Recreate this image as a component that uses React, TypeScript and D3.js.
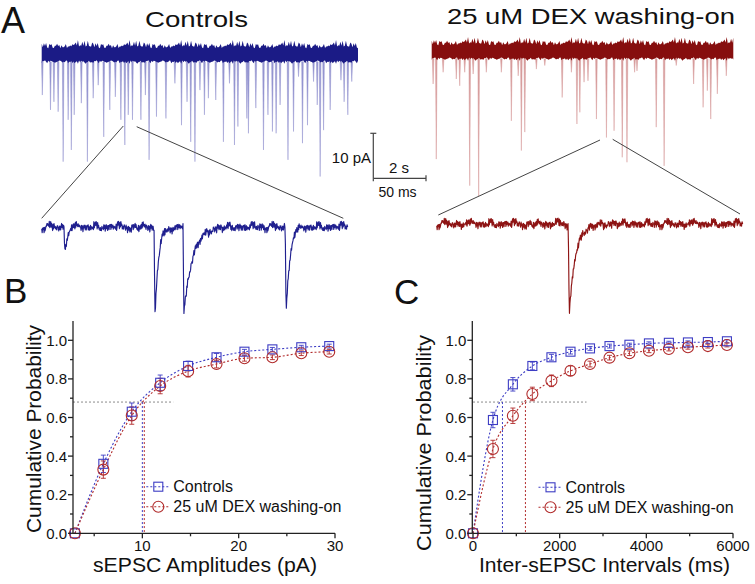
import React from 'react';
import * as d3 from 'd3';

// ---------- Panel B : cumulative amplitude ----------
const AMP_X = [3, 5.95, 8.9, 11.85, 14.75, 17.7, 20.6, 23.5, 26.5, 29.4];
const AMP_CTRL = [0, 0.36, 0.63, 0.78, 0.867, 0.912, 0.941, 0.953, 0.964, 0.97];
const AMP_CTRL_ERR = [0, 0.045, 0.045, 0.04, 0.025, 0.02, 0.012, 0.01, 0.01, 0.01];
const AMP_DEX = [0, 0.33, 0.61, 0.763, 0.84, 0.877, 0.907, 0.912, 0.933, 0.941];
const AMP_DEX_ERR = [0, 0.045, 0.045, 0.04, 0.03, 0.02, 0.015, 0.012, 0.012, 0.012];
const AMP_MEDIAN = { ctrl: 10.0, dex: 10.2, level: 0.68, end: 13.2 };
const AMP_TICKS = [10, 20, 30];
const AMP_MINOR = [5, 15, 25];

// ---------- Panel C : cumulative intervals ----------
const INT_X = [0, 460, 920, 1370, 1810, 2250, 2700, 3150, 3610, 4060, 4520, 4960, 5420, 5860];
const INT_CTRL = [0, 0.587, 0.772, 0.867, 0.912, 0.941, 0.958, 0.97, 0.977, 0.984, 0.987, 0.989, 0.991, 0.995];
const INT_CTRL_ERR = [0, 0.04, 0.035, 0.02, 0.015, 0.012, 0.01, 0.01, 0.008, 0.008, 0.008, 0.008, 0.008, 0.008];
const INT_DEX = [0, 0.437, 0.609, 0.722, 0.79, 0.842, 0.877, 0.91, 0.933, 0.946, 0.955, 0.964, 0.97, 0.976];
const INT_DEX_ERR = [0, 0.045, 0.04, 0.035, 0.03, 0.025, 0.015, 0.012, 0.012, 0.01, 0.01, 0.01, 0.01, 0.01];
const INT_MEDIAN = { ctrl: 680, dex: 1210, level: 0.68, end: 2620 };
const INT_TICKS = [0, 2000, 4000, 6000];
const INT_MINOR = [1000, 3000, 5000];

const Y_TICKS = [0, 0.2, 0.4, 0.6, 0.8, 1.0];
const Y_MINOR = [0.1, 0.3, 0.5, 0.7, 0.9];

// ---------- Panel A : overview traces (time s, amplitude pA) ----------
const CTRL_SPIKE_T = [0.02, 0.33, 0.46, 0.62, 0.81, 1.0, 1.12, 1.23, 1.5, 1.73, 1.95, 2.14, 2.35, 2.58, 2.79, 3.0, 3.15, 3.28, 3.44, 3.76, 3.93, 4.07, 4.35, 4.71, 5.05, 5.3, 5.51, 5.65, 5.81, 6.0, 6.17, 6.32, 6.6, 6.89, 7.12, 7.31, 7.44, 7.78, 7.84, 8.12, 8.41, 8.58, 8.75, 8.89, 9.04, 9.34, 9.55, 9.74, 9.89, 10.08, 10.31, 10.45, 10.56, 10.69, 10.94, 11.35, 11.47, 11.61, 11.76];
const CTRL_SPIKE_A = [8.9, 12.2, 10.4, 12.6, 23.7, 14.4, 21.1, 13.3, 10.7, 23.7, 9.6, 6.7, 18.2, 12.2, 9.3, 14.4, 20.0, 13.3, 14.4, 14.4, 8.9, 23.3, 13.7, 14.1, 6.3, 15.6, 10.4, 19.3, 23.7, 7.8, 13.3, 9.6, 10.0, 19.3, 6.3, 20.0, 15.9, 14.1, 17.4, 11.8, 21.1, 13.3, 17.0, 17.4, 11.1, 23.3, 17.0, 4.8, 19.6, 15.6, 5.9, 11.1, 27.0, 16.7, 12.2, 5.6, 10.4, 13.3, 5.9];
const DEX_SPIKE_T = [0.05, 0.17, 0.43, 0.93, 1.06, 1.25, 1.44, 1.57, 1.78, 2.07, 2.64, 3.02, 3.28, 3.4, 3.53, 3.97, 4.29, 4.95, 5.3, 5.51, 5.62, 5.78, 5.93, 6.25, 6.63, 6.92, 7.23, 7.41, 7.7, 7.79, 8.52, 8.82, 9.28, 9.94, 10.3, 10.46, 10.59, 10.84, 11.18];
const DEX_SPIKE_A = [7.1, 23.8, 4.5, 6.0, 7.5, 4.5, 29.7, 4.9, 32.0, 4.5, 4.5, 15.3, 5.3, 21.9, 17.8, 3.8, 3.0, 10.1, 4.5, 16.0, 13.4, 6.7, 6.4, 14.9, 19.0, 17.5, 23.4, 24.5, 4.5, 4.2, 16.7, 25.3, 3.0, 7.1, 12.3, 8.6, 14.9, 9.3, 5.3];

// ---------- Panel A : expanded traces (time ms, amplitude pA, decay ms) ----------
const CTRL_EVT_T = [22, 107.5, 135, 232];
const CTRL_EVT_A = [5.5, 19.5, 19.5, 19.5];
const CTRL_EVT_TAU = [2.5, 3.5, 8, 3.5];
const DEX_EVT_T = [125.8];
const DEX_EVT_A = [20];
const DEX_EVT_TAU = [6];

// fixed texture values used for the baseline noise of the traces
const NOISE = [0.62, 0.15, 0.88, 0.34, 0.71, 0.05, 0.93, 0.47, 0.26, 0.8, 0.12, 0.58, 0.97, 0.39, 0.66, 0.21, 0.84, 0.08, 0.53, 0.75, 0.3, 0.91, 0.44, 0.17, 0.69, 0.02, 0.86, 0.36, 0.59, 0.24, 0.95, 0.5, 0.11, 0.78, 0.41, 0.64, 0.19, 0.89, 0.33, 0.72, 0.06, 0.55, 0.98, 0.28, 0.81, 0.14, 0.67];

const FONT = 'Arial, "Liberation Sans", Helvetica, sans-serif';
const BLUE = '#3d3dc4';
const RED = '#b12b2b';

function nz(i: number) {
  return NOISE[((i % NOISE.length) + NOISE.length) % NOISE.length];
}

function Overview({ x0, x1, tMax, base, spikesT, spikesA, band, spike }: any) {
  const xs = d3.scaleLinear().domain([0, tMax]).range([x0, x1]);
  const ys = d3.scaleLinear().domain([0, -10]).range([base, base + 45]);
  const n = Math.round((x1 - x0) / 1.1);
  const top: [number, number][] = [];
  const bot: [number, number][] = [];
  for (let i = 0; i <= n; i++) {
    const t = (i / n) * tMax;
    const up = 1.4 + 1.9 * nz(i) * nz(i * 3 + 7) + 0.6 * nz(i * 5 + 2);
    const dn = 1.1 + 0.5 * nz(i * 2 + 11) + 0.6 * nz(i * 7 + 4) * nz(i + 9);
    top.push([xs(t), ys(up)]);
    bot.push([xs(t), ys(-dn)]);
  }
  const bandD = 'M' + top.map((p) => p.join(',')).join('L') + 'L' + bot.reverse().map((p) => p.join(',')).join('L') + 'Z';
  return (
    <g>
      {spikesT.map((t: number, i: number) => {
        const x = xs(t);
        const yb = ys(-1.5);
        const yt = ys(-spikesA[i]);
        return <path key={i} d={`M${x - 0.7},${yb}L${x + 0.1},${yt}L${x + 0.9},${yb}Z`} fill={spike} stroke={spike} strokeWidth={0.5} opacity={0.85} />;
      })}
      <path d={bandD} fill={band} />
    </g>
  );
}

function Expanded({ x0, x1, base, evT, evA, evTau, color }: any) {
  const xs = d3.scaleLinear().domain([0, 291]).range([x0, x1]);
  const ys = d3.scaleLinear().domain([0, -10]).range([base, base + 45]);
  const pts: [number, number][] = [];
  let i = 0;
  for (let t = 0; t <= 291; t += 0.45, i++) {
    let v = (nz(i) - 0.5) * 1.5 + (nz(i * 7 + 3) - 0.5) * 0.8 + (nz(Math.floor(i / 10) + 5) - 0.5) * 1.0;
    evT.forEach((et: number, k: number) => {
      const dt = t - et;
      if (dt >= -0.9 && dt < 0) v -= evA[k] * (1 + dt / 0.9);
      else if (dt >= 0) v -= evA[k] * Math.exp(-dt / evTau[k]);
    });
    pts.push([xs(t), ys(v)]);
  }
  const line = d3.line();
  return <path d={line(pts) || ''} fill="none" stroke={color} strokeWidth={1.15} strokeLinejoin="round" />;
}

function CumPlot(p: any) {
  const { xScale, yScale, xs, ctrl, ctrlErr, dex, dexErr, med, ticks, minor, xLabel, xLabelCx, xLabelLen, yLabelX, yLabelCy, yLabelLen, legX, legY, axisX, axisY, tickFmt } = p;
  const line = d3.line<number>().x((_, i) => xScale(xs[i])).y((d) => yScale(d)).curve(d3.curveMonotoneX);
  const x0 = xScale.range()[0];
  const x1 = xScale.range()[1];
  const yTop = yScale(1.1);
  const sq = (cx: number, cy: number, k: any) => <rect key={k} x={cx - 4.5} y={cy - 4.5} width={9} height={9} fill="none" stroke={BLUE} strokeWidth={1.1} />;
  const ci = (cx: number, cy: number, k: any) => <circle key={k} cx={cx} cy={cy} r={5.5} fill="none" stroke={RED} strokeWidth={1.1} />;
  const err = (vals: number[], errs: number[], color: string) =>
    vals.map((v, i) => {
      if (!errs[i]) return null;
      const x = xScale(xs[i]);
      const a = yScale(v + errs[i]);
      const b = yScale(v - errs[i]);
      return (
        <g key={i} stroke={color} strokeWidth={0.9}>
          <line x1={x} x2={x} y1={a} y2={b} />
          <line x1={x - 2.5} x2={x + 2.5} y1={a} y2={a} />
          <line x1={x - 2.5} x2={x + 2.5} y1={b} y2={b} />
        </g>
      );
    });
  return (
    <g>
      {/* median guides */}
      <line x1={x0} x2={xScale(med.end)} y1={yScale(med.level)} y2={yScale(med.level)} stroke="#8a8a8a" strokeWidth={1} strokeDasharray="2,2" />
      <line x1={xScale(med.ctrl)} x2={xScale(med.ctrl)} y1={yScale(med.level)} y2={axisY} stroke={BLUE} strokeWidth={1} strokeDasharray="2,2" />
      <line x1={xScale(med.dex)} x2={xScale(med.dex)} y1={yScale(med.level)} y2={axisY} stroke={RED} strokeWidth={1} strokeDasharray="2,2" />
      {/* curves */}
      <path d={line(ctrl) || ''} fill="none" stroke={BLUE} strokeWidth={1.1} strokeDasharray="2,2" />
      <path d={line(dex) || ''} fill="none" stroke={RED} strokeWidth={1.1} strokeDasharray="2,2" />
      {err(ctrl, ctrlErr, BLUE)}
      {err(dex, dexErr, RED)}
      {ctrl.map((v: number, i: number) => sq(xScale(xs[i]), yScale(v), 'c' + i))}
      {dex.map((v: number, i: number) => ci(xScale(xs[i]), yScale(v), 'd' + i))}
      {/* axes */}
      <g stroke="#222" strokeWidth={1.3}>
        <line x1={axisX} x2={axisX} y1={yTop} y2={axisY} />
        <line x1={axisX} x2={x1} y1={axisY} y2={axisY} />
        {ticks.map((t: number) => <line key={'t' + t} x1={xScale(t)} x2={xScale(t)} y1={axisY} y2={axisY + 5} />)}
        {minor.map((t: number) => <line key={'m' + t} x1={xScale(t)} x2={xScale(t)} y1={axisY} y2={axisY + 3} />)}
        {Y_TICKS.map((t) => <line key={'y' + t} x1={axisX - 5} x2={axisX} y1={yScale(t)} y2={yScale(t)} />)}
        {Y_MINOR.map((t) => <line key={'ym' + t} x1={axisX - 3} x2={axisX} y1={yScale(t)} y2={yScale(t)} />)}
      </g>
      <g fontSize={15} fill="#111">
        {ticks.map((t: number) => (
          <text key={'tl' + t} x={xScale(t)} y={axisY + 18} textAnchor="middle">{tickFmt(t)}</text>
        ))}
        {Y_TICKS.map((t) => (
          <text key={'yl' + t} x={axisX - 6} y={yScale(t) + 5.5} textAnchor="end">{d3.format('.1f')(t)}</text>
        ))}
      </g>
      <text x={xLabelCx} y={572} textAnchor="middle" fontSize={19.5} fill="#111" textLength={xLabelLen} lengthAdjust="spacingAndGlyphs">{xLabel}</text>
      <text transform={`translate(${yLabelX},${yLabelCy}) rotate(-90)`} textAnchor="middle" fontSize={21} fill="#111" textLength={yLabelLen} lengthAdjust="spacingAndGlyphs">Cumulative Probability</text>
      {/* legend */}
      <line x1={legX - 12} x2={legX + 12} y1={legY} y2={legY} stroke={BLUE} strokeWidth={1.1} strokeDasharray="2,2" />
      {sq(legX, legY, 'l1')}
      <text x={legX + 15} y={legY + 5.5} fontSize={16} fill="#111">Controls</text>
      <line x1={legX - 12} x2={legX + 12} y1={legY + 20} y2={legY + 20} stroke={RED} strokeWidth={1.1} strokeDasharray="2,2" />
      {ci(legX, legY + 20, 'l2')}
      <text x={legX + 15} y={legY + 25.5} fontSize={16} fill="#111">25 uM DEX washing-on</text>
    </g>
  );
}

export default function App() {
  const yScale = d3.scaleLinear().domain([0, 1.1]).range([533.3, 321]);
  const xB = d3.scaleLinear().domain([2.8, 30]).range([73, 335]);
  const xC = d3.scaleLinear().domain([0, 6000]).range([473, 733]);
  // scale bar: 10 pA vertical, 2 s horizontal
  const sbY = d3.scaleLinear().domain([0, 10]).range([178.3, 133.3]);
  const sbX = d3.scaleLinear().domain([0, 2]).range([373.3, 426]);
  return (
    <svg width={755} height={584} style={{ position: 'absolute', left: 0, top: 0, background: '#fff' }} fontFamily={FONT}>
      <rect width={755} height={584} fill="#fff" />
      {/* panel letters */}
      <text x={1} y={33} fontSize={36} fill="#111">A</text>
      <text x={4} y={303} fontSize={35} fill="#111">B</text>
      <text x={394} y={304} fontSize={35} fill="#111">C</text>
      {/* titles */}
      <text x={145} y={27} fontSize={22} fill="#111" textLength={103} lengthAdjust="spacingAndGlyphs">Controls</text>
      <text x={447} y={24} fontSize={22} fill="#111" textLength={288} lengthAdjust="spacingAndGlyphs">25 uM DEX washing-on</text>

      {/* overview traces */}
      <Overview x0={41.7} x1={358} tMax={12} base={55} spikesT={CTRL_SPIKE_T} spikesA={CTRL_SPIKE_A} band="#1b1b86" spike="#8282c8" />
      <Overview x0={431.7} x1={733.3} tMax={11.45} base={52} spikesT={DEX_SPIKE_T} spikesA={DEX_SPIKE_A} band="#860e0e" spike="#d08a8a" />

      {/* zoom connectors */}
      <g stroke="#444" strokeWidth={1}>
        <line x1={123.3} y1={126} x2={41.7} y2={218.3} />
        <line x1={136.7} y1={126.7} x2={343.3} y2={218.3} />
        <line x1={600} y1={140} x2={438.3} y2={215} />
        <line x1={612.7} y1={139.3} x2={740} y2={214} />
      </g>

      {/* expanded traces */}
      <Expanded x0={41.7} x1={348.3} base={227} evT={CTRL_EVT_T} evA={CTRL_EVT_A} evTau={CTRL_EVT_TAU} color="#20208f" />
      <Expanded x0={436.7} x1={743.3} base={224} evT={DEX_EVT_T} evA={DEX_EVT_A} evTau={DEX_EVT_TAU} color="#8e1414" />

      {/* scale bar */}
      <g stroke="#444" strokeWidth={1.2}>
        <line x1={sbX(0)} x2={sbX(0)} y1={sbY(0)} y2={sbY(10)} />
        <line x1={sbX(0) - 3} x2={sbX(0) + 3} y1={sbY(10)} y2={sbY(10)} />
        <line x1={sbX(0)} x2={sbX(2)} y1={sbY(0)} y2={sbY(0)} />
        <line x1={sbX(2)} x2={sbX(2)} y1={sbY(0) - 3} y2={sbY(0) + 3} />
        <line x1={sbX(0)} x2={sbX(0)} y1={sbY(0)} y2={sbY(0) + 3} />
      </g>
      <text x={371} y={163} fontSize={15} textAnchor="end" fill="#111">10 pA</text>
      <text x={399} y={173} fontSize={15} textAnchor="middle" fill="#111">2 s</text>
      <text x={397.5} y={196.5} fontSize={14} textAnchor="middle" fill="#111">50 ms</text>

      <CumPlot xScale={xB} yScale={yScale} xs={AMP_X} ctrl={AMP_CTRL} ctrlErr={AMP_CTRL_ERR} dex={AMP_DEX} dexErr={AMP_DEX_ERR}
        med={AMP_MEDIAN} ticks={AMP_TICKS} minor={AMP_MINOR} xLabel="sEPSC Amplitudes (pA)" xLabelCx={205} xLabelLen={224}
        yLabelX={41} yLabelCy={429} yLabelLen={208} legX={158.3} legY={486.7} axisX={73} axisY={533.3} tickFmt={(t: number) => String(t)} />
      <CumPlot xScale={xC} yScale={yScale} xs={INT_X} ctrl={INT_CTRL} ctrlErr={INT_CTRL_ERR} dex={INT_DEX} dexErr={INT_DEX_ERR}
        med={INT_MEDIAN} ticks={INT_TICKS} minor={INT_MINOR} xLabel="Inter-sEPSC Intervals (ms)" xLabelCx={604.5} xLabelLen={251}
        yLabelX={431} yLabelCy={443} yLabelLen={216} legX={550.5} legY={487.3} axisX={472.3} axisY={533.3} tickFmt={(t: number) => String(t)} />
    </svg>
  );
}
